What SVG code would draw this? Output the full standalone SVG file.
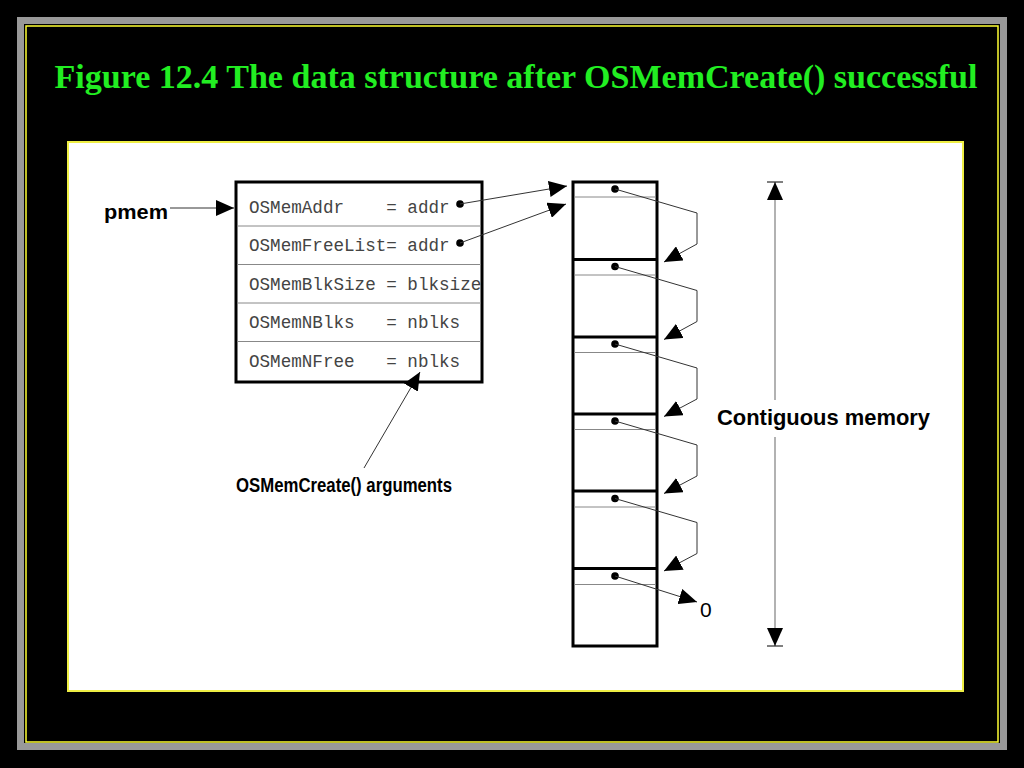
<svg xmlns="http://www.w3.org/2000/svg" width="1024" height="768" viewBox="0 0 1024 768">
<defs>
<style>
.mono{font-family:"Liberation Mono","Courier New",monospace;font-size:17.6px;fill:#444}
.lbl{font-family:"Liberation Sans",Arial,sans-serif;font-weight:bold;fill:#000}
.thin{stroke:#333;stroke-width:1;fill:none}
.thick{stroke:#000;stroke-width:3;fill:none}
.grid{stroke:#888;stroke-width:1}
.dot{fill:#000}
</style>
<marker id="ah" viewBox="0 0 18 16" refX="18" refY="8" markerWidth="18" markerHeight="16" markerUnits="userSpaceOnUse" orient="auto">
<path d="M0,0 L18,8 L0,16 Z" fill="#000"/>
</marker>
</defs>
<rect x="0" y="0" width="1024" height="768" fill="#000"/>
<rect x="20.5" y="20.5" width="983" height="726" fill="none" stroke="#999" stroke-width="7"/>
<rect x="26" y="26" width="972" height="716" fill="none" stroke="#ffff33" stroke-width="1.5"/>
<text x="516" y="88" text-anchor="middle" font-family="Liberation Serif,'Times New Roman',serif" font-weight="bold" font-size="34" fill="#22ee22" textLength="923" lengthAdjust="spacingAndGlyphs">Figure 12.4 The data structure after OSMemCreate() successful</text>
<rect x="68" y="142" width="895" height="549" fill="#fff" stroke="#eeee44" stroke-width="2"/>

<g id="pmem">
<text class="lbl" x="104" y="219" font-size="21" textLength="64" lengthAdjust="spacingAndGlyphs">pmem</text>
</g>

<g id="os_mem">
<rect x="236" y="182" width="246" height="200" fill="#fff" stroke="#000" stroke-width="3"/>
<line class="grid" x1="237" y1="226" x2="481" y2="226"/>
<line class="grid" x1="237" y1="264.5" x2="481" y2="264.5"/>
<line class="grid" x1="237" y1="303" x2="481" y2="303"/>
<line class="grid" x1="237" y1="341.5" x2="481" y2="341.5"/>
<text class="mono" x="249" y="213" xml:space="preserve">OSMemAddr    = addr</text>
<text class="mono" x="249" y="251" xml:space="preserve">OSMemFreeList= addr</text>
<text class="mono" x="249" y="290" xml:space="preserve">OSMemBlkSize = blksize</text>
<text class="mono" x="249" y="328" xml:space="preserve">OSMemNBlks   = nblks</text>
<text class="mono" x="249" y="367" xml:space="preserve">OSMemNFree   = nblks</text>
<circle class="dot" cx="460" cy="204" r="3.8"/>
<circle class="dot" cx="460" cy="243" r="3.8"/>
</g>

<g id="memory">
<rect x="573" y="182" width="84" height="464" fill="#fff" stroke="#000" stroke-width="3"/>
<line class="thick" x1="573" y1="259.5" x2="657" y2="259.5"/>
<line class="thick" x1="573" y1="337" x2="657" y2="337"/>
<line class="thick" x1="573" y1="414" x2="657" y2="414"/>
<line class="thick" x1="573" y1="491" x2="657" y2="491"/>
<line class="thick" x1="573" y1="568.5" x2="657" y2="568.5"/>
<line class="grid" x1="574" y1="197" x2="656" y2="197"/>
<line class="grid" x1="574" y1="275" x2="656" y2="275"/>
<line class="grid" x1="574" y1="352.5" x2="656" y2="352.5"/>
<line class="grid" x1="574" y1="429.5" x2="656" y2="429.5"/>
<line class="grid" x1="574" y1="507" x2="656" y2="507"/>
<line class="grid" x1="574" y1="584.5" x2="656" y2="584.5"/>
<circle class="dot" cx="615" cy="189" r="3.8"/>
<circle class="dot" cx="615" cy="266.5" r="3.8"/>
<circle class="dot" cx="615" cy="344" r="3.8"/>
<circle class="dot" cx="615" cy="421" r="3.8"/>
<circle class="dot" cx="615" cy="498.5" r="3.8"/>
<circle class="dot" cx="615" cy="576" r="3.8"/>
</g>

<g id="zero"><text x="700" y="617" font-family="Liberation Sans,Arial,sans-serif" font-size="21" fill="#000">0</text></g>

<g id="contiguous">
<text class="lbl" x="717" y="425" font-size="22" textLength="213" lengthAdjust="spacingAndGlyphs">Contiguous memory</text>
</g>

<g id="args">
<text class="lbl" x="236" y="492" font-size="20" textLength="216" lengthAdjust="spacingAndGlyphs">OSMemCreate() arguments</text>
</g>

<g id="connectors">
<line class="thin" x1="170" y1="208" x2="234" y2="208" marker-end="url(#ah)"/>
<line class="thin" x1="460" y1="204" x2="567" y2="186" marker-end="url(#ah)"/>
<line class="thin" x1="460" y1="243" x2="566" y2="204" marker-end="url(#ah)"/>
<line class="thin" x1="364" y1="468" x2="420" y2="372" marker-end="url(#ah)"/>
<polyline class="thin" points="615,189 697,213 697,244 664,262" marker-end="url(#ah)"/>
<polyline class="thin" points="615,266.5 697,290.5 697,321.5 664,339.5" marker-end="url(#ah)"/>
<polyline class="thin" points="615,344 697,368 697,399 664,416.5" marker-end="url(#ah)"/>
<polyline class="thin" points="615,421 697,445 697,476 664,493.5" marker-end="url(#ah)"/>
<polyline class="thin" points="615,498.5 697,522.5 697,553.5 664,571" marker-end="url(#ah)"/>
<line class="thin" x1="615" y1="576" x2="697" y2="602" marker-end="url(#ah)"/>
<line x1="775" y1="400" x2="775" y2="182" stroke="#999" stroke-width="1.5" marker-end="url(#ah)"/>
<line x1="775" y1="437" x2="775" y2="646" stroke="#999" stroke-width="1.5" marker-end="url(#ah)"/>
<line x1="767" y1="182" x2="783" y2="182" stroke="#000" stroke-width="1"/>
<line x1="767" y1="646" x2="783" y2="646" stroke="#000" stroke-width="1"/>
</g>
</svg>
